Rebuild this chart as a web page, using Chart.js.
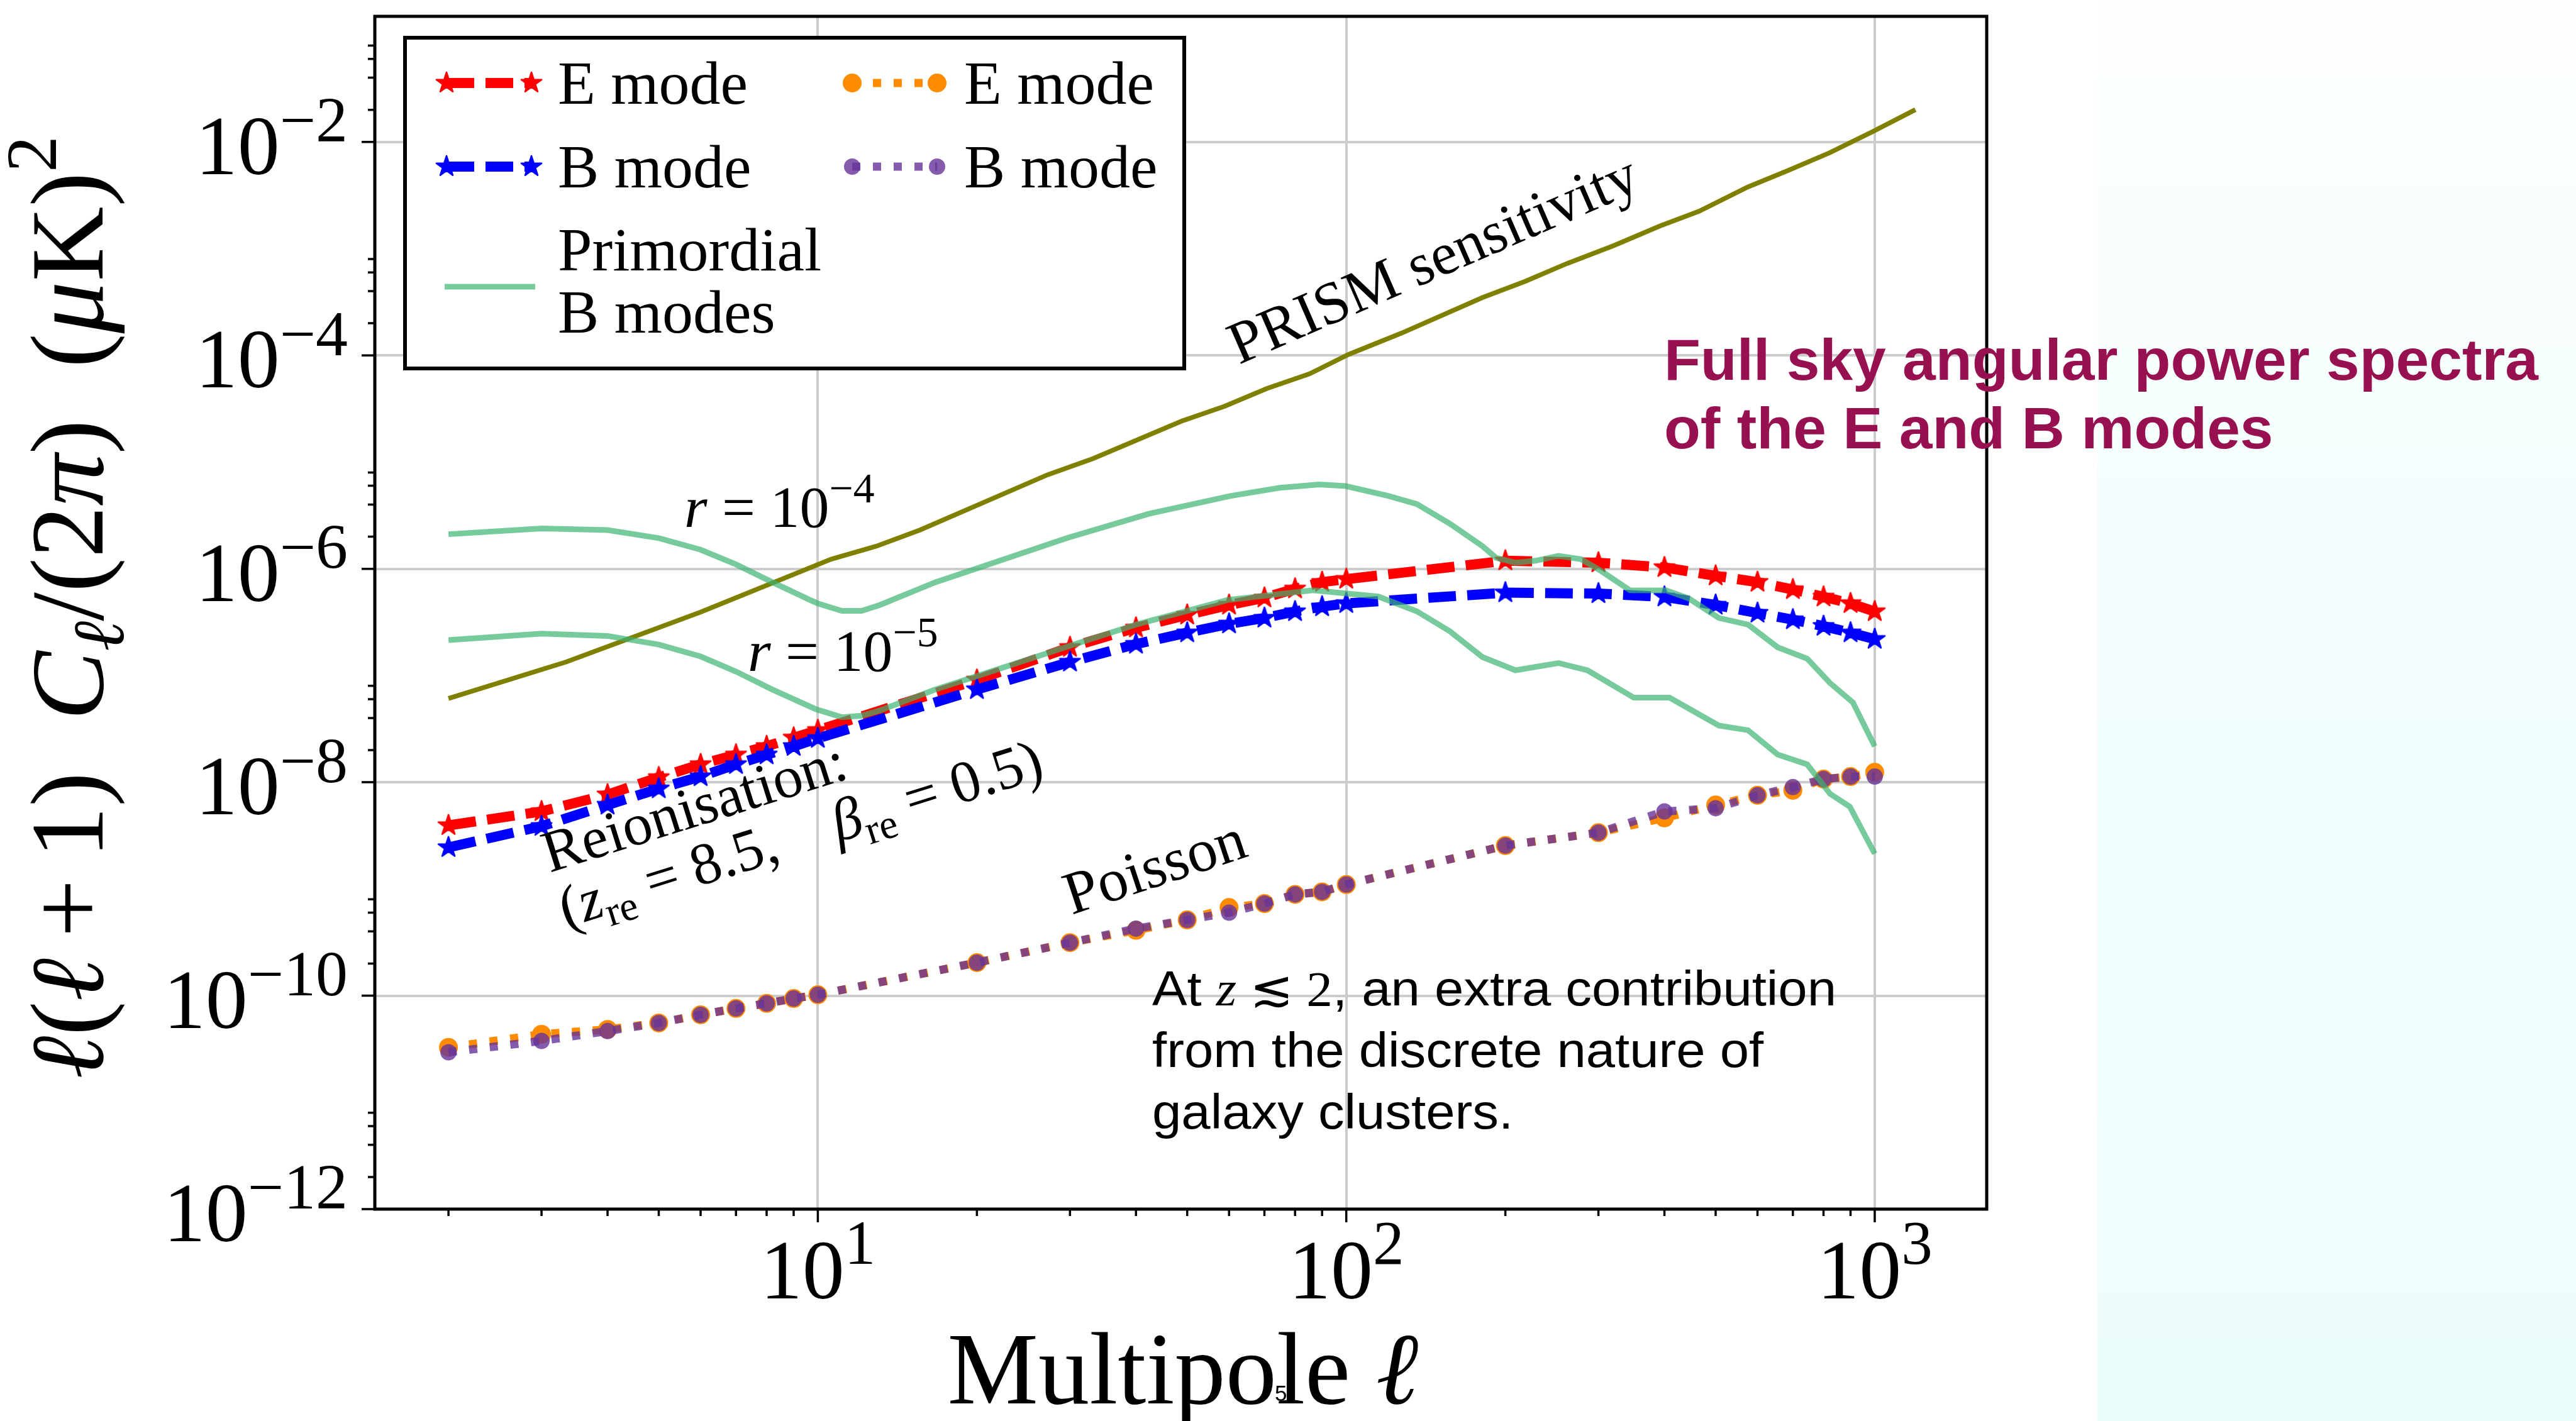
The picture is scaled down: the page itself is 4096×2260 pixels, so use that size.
<!DOCTYPE html>
<html lang="en">
<head>
<meta charset="utf-8">
<title>Full sky angular power spectra of the E and B modes</title>
<script src="https://cdn.jsdelivr.net/npm/chart.js"></script>
<style>
  html, body { margin: 0; padding: 0; background: #fff; }
  canvas { display: block; }
</style>
</head>
<body>
<canvas id="plot" width="4096" height="2260"></canvas>
<script>
// multipoles where the reionisation and Poisson spectra are sampled
const ells = [2, 3, 4, 5, 6, 7, 8, 9, 10, 20, 30, 40, 50, 60, 70, 80, 90, 100,
  200, 300, 400, 500, 600, 700, 800, 900, 1000];

const eModeReion = [3.94e-9, 5.32e-9, 7.66e-9, 1.11e-8, 1.47e-8, 1.81e-8, 2.17e-8, 2.61e-8, 3.07e-8,
  9.1e-8, 1.84e-7, 2.8e-7, 3.7e-7, 4.58e-7, 5.35e-7, 6.5e-7, 7.5e-7, 8.0e-7,
  1.19e-6, 1.14e-6, 1.03e-6, 8.6e-7, 7.5e-7, 6.4e-7, 5.46e-7, 4.74e-7, 3.98e-7];
const bModeReion = [2.45e-9, 3.87e-9, 6.12e-9, 8.7e-9, 1.13e-8, 1.47e-8, 1.81e-8, 2.17e-8, 2.58e-8,
  7.4e-8, 1.34e-7, 1.97e-7, 2.52e-7, 3.05e-7, 3.46e-7, 3.98e-7, 4.42e-7, 4.74e-7,
  5.98e-7, 5.86e-7, 5.46e-7, 4.58e-7, 3.85e-7, 3.34e-7, 2.9e-7, 2.52e-7, 2.19e-7];
const eModePoisson = [3.28e-11, 4.35e-11, 4.83e-11, 5.55e-11, 6.62e-11, 7.6e-11, 8.47e-11, 9.4e-11, 1.02e-10,
  2.04e-10, 3.14e-10, 4.1e-10, 5.13e-10, 6.7e-10, 7.3e-10, 8.9e-10, 9.4e-10, 1.1e-9,
  2.55e-9, 3.37e-9, 4.63e-9, 6.12e-9, 7.55e-9, 8.4e-9, 1.07e-8, 1.13e-8, 1.24e-8];
const bModePoisson = [2.95e-11, 3.77e-11, 4.66e-11, 5.55e-11, 6.62e-11, 7.6e-11, 8.47e-11, 9.4e-11, 1.02e-10,
  2.04e-10, 3.14e-10, 4.25e-10, 5.13e-10, 6.0e-10, 7.3e-10, 8.9e-10, 9.4e-10, 1.1e-9,
  2.55e-9, 3.37e-9, 5.32e-9, 5.71e-9, 7.55e-9, 9.0e-9, 1.07e-8, 1.13e-8, 1.13e-8];

// primordial B modes, r = 1e-4
const r4Ell = [2, 3, 4, 5, 6, 7, 8.2, 9.6, 10, 11.1, 12.1, 13.1, 16.7, 20.7, 29.6, 42.3, 60.5, 74.9,
  88.9, 99.7, 120, 136, 157, 181, 192, 209, 228, 252, 278, 303, 344, 403, 445, 507, 576, 655,
  745, 823, 909, 1000];
const r4Val = [2.11e-6, 2.39e-6, 2.31e-6, 1.94e-6, 1.51e-6, 1.1e-6, 7.5e-7, 5.18e-7, 4.74e-7, 4.04e-7,
  4.04e-7, 4.58e-7, 7.5e-7, 1.07e-6, 1.94e-6, 3.28e-6, 4.83e-6, 5.75e-6, 6.18e-6, 5.96e-6, 4.83e-6,
  4.05e-6, 2.65e-6, 1.63e-6, 1.27e-6, 1.14e-6, 1.19e-6, 1.32e-6, 1.23e-6, 9.6e-7, 6.3e-7, 6.28e-7,
  5.27e-7, 3.46e-7, 3.0e-7, 1.84e-7, 1.44e-7, 8.5e-8, 5.6e-8, 2.17e-8];

// primordial B modes, r = 1e-5
const r5Ell = [2, 3, 4, 5, 6, 7, 8.2, 9.9, 11.1, 12.1, 13.1, 16.7, 19.9, 30, 40, 59.6, 86.4, 115,
  136, 157, 181, 209, 252, 286, 350, 409, 507, 576, 655, 745, 823, 897, 1000];
const r5Val = [2.15e-7, 2.47e-7, 2.35e-7, 1.95e-7, 1.51e-7, 1.09e-7, 7.4e-8, 4.85e-8, 4.07e-8, 4.2e-8,
  4.7e-8, 7.4e-8, 9.8e-8, 1.9e-7, 3.0e-7, 5.1e-7, 6.3e-7, 5.5e-7, 4.0e-7, 2.6e-7, 1.49e-7, 1.12e-7,
  1.31e-7, 1.12e-7, 6.2e-8, 6.2e-8, 3.4e-8, 3.07e-8, 1.82e-8, 1.47e-8, 7.8e-9, 5.9e-9, 2.14e-9];

// PRISM sensitivity
const prismEll = [2, 3.34, 6, 10.6, 12.9, 15.6, 27.2, 33.2, 48.8, 58.8, 70.7, 85.2, 101, 127, 181,
  218, 262, 321, 392, 465, 575, 684, 822, 991, 1194];
const prismVal = [6.1e-8, 1.34e-7, 3.93e-7, 1.23e-6, 1.63e-6, 2.31e-6, 7.6e-6, 1.08e-5, 2.42e-5,
  3.33e-5, 4.89e-5, 6.71e-5, 1.02e-4, 1.61e-4, 3.48e-4, 4.94e-4, 7.28e-4, 1.07e-3, 1.63e-3,
  2.24e-3, 3.78e-3, 5.38e-3, 7.93e-3, 1.25e-2, 2.01e-2];

const xMajor = [10, 100, 1000];
const xExp = ['1', '2', '3'];
const xMinor = [2, 3, 4, 5, 6, 7, 8, 9, 20, 30, 40, 50, 60, 70, 80, 90, 200, 300, 400, 500, 600, 700, 800, 900];
const yMajor = [1e-12, 1e-10, 1e-8, 1e-6, 1e-4, 1e-2];
const yExp = ['\u221212', '\u221210', '\u22128', '\u22126', '\u22124', '\u22122'];
const yMinor = [2e-12, 4e-12, 6e-12, 8e-12, 2e-10, 4e-10, 6e-10, 8e-10, 2e-8, 4e-8, 6e-8, 8e-8,
  2e-6, 4e-6, 6e-6, 8e-6, 2e-4, 4e-4, 6e-4, 8e-4, 2e-2, 4e-2, 6e-2, 8e-2];

const legendLabels = ['E mode', 'B mode', 'E mode', 'B mode', ['Primordial', 'B modes']];

const W = 4096, H = 2260;
const SERIF = '"Liberation Serif", "DejaVu Serif", serif';
const SANS = '"Liberation Sans", Arial, sans-serif';

function pts(xs, ys) {
  return xs.map((v, i) => ({ x: v, y: ys[i] }));
}

function starImage(color, R) {
  const c = document.createElement('canvas');
  const n = Math.ceil(2 * R + 6);
  c.width = c.height = n;
  const g = c.getContext('2d');
  g.translate(n / 2, n / 2);
  g.beginPath();
  for (let k = 0; k < 10; k++) {
    const r = k % 2 ? R * 0.382 : R;
    const a = -Math.PI / 2 + k * Math.PI / 5;
    g.lineTo(r * Math.cos(a), r * Math.sin(a));
  }
  g.closePath();
  g.fillStyle = color;
  g.strokeStyle = color;
  g.lineWidth = 2.5;
  g.lineJoin = 'round';
  g.fill();
  g.stroke();
  return c;
}

function runFont(r, size) {
  return (r.i ? 'italic ' : '') + (r.b ? 'bold ' : '') + (size * (r.k || 1)) + 'px ' + (r.sans ? SANS : SERIF);
}

function runsWidth(ctx, runs, size) {
  let w = 0;
  for (const r of runs) {
    ctx.font = runFont(r, size);
    w += ctx.measureText(r.t).width;
  }
  return w;
}

function drawRuns(ctx, runs, x, y, size, o = {}) {
  const w = runsWidth(ctx, runs, size);
  ctx.save();
  ctx.translate(x, y);
  if (o.angle) ctx.rotate(o.angle * Math.PI / 180);
  if (o.sx) ctx.scale(o.sx, 1);
  let cx = o.align === 'center' ? -w / 2 : o.align === 'right' ? -w : 0;
  ctx.fillStyle = o.color || '#000';
  ctx.textAlign = 'left';
  ctx.textBaseline = 'alphabetic';
  for (const r of runs) {
    ctx.font = runFont(r, size);
    ctx.fillText(r.t, cx, (r.dy || 0) * size);
    cx += ctx.measureText(r.t).width;
  }
  ctx.restore();
  return w;
}

const redStar = starImage('#ff0000', 17);
const blueStar = starImage('#0000ff', 17);

const datasets = [
  { data: pts(r5Ell, r5Val), borderColor: 'rgba(60,179,113,0.7)', borderWidth: 9, pointRadius: 0 },
  { data: pts(r4Ell, r4Val), borderColor: 'rgba(60,179,113,0.7)', borderWidth: 9, pointRadius: 0 },
  { data: pts(prismEll, prismVal), borderColor: '#808000', borderWidth: 7.5, pointRadius: 0 },
  { data: pts(ells, bModePoisson), borderColor: 'rgba(102,51,153,0.8)', backgroundColor: 'rgba(102,51,153,0.8)',
    borderWidth: 13, borderDash: [13, 20], pointRadius: 13, pointBorderWidth: 0 },
  { data: pts(ells, eModePoisson), borderColor: '#ff8c00', backgroundColor: '#ff8c00',
    borderWidth: 13, borderDash: [13, 20], pointRadius: 15, pointBorderWidth: 0 },
  { data: pts(ells, bModeReion), borderColor: '#0000ff', borderWidth: 16, borderDash: [44, 18],
    pointStyle: blueStar, pointRadius: 10 },
  { data: pts(ells, eModeReion), borderColor: '#ff0000', borderWidth: 16, borderDash: [44, 18],
    pointStyle: redStar, pointRadius: 10 }
];

function handle(ctx, ds, x0, x1, yc) {
  ctx.save();
  ctx.strokeStyle = ds.borderColor;
  ctx.lineWidth = ds.borderWidth;
  ctx.setLineDash(ds.borderDash || []);
  ctx.beginPath();
  ctx.moveTo(x0, yc);
  ctx.lineTo(x1, yc);
  ctx.stroke();
  ctx.setLineDash([]);
  for (const px of [x0, x1]) {
    if (ds.pointStyle instanceof HTMLCanvasElement) {
      ctx.drawImage(ds.pointStyle, px - ds.pointStyle.width / 2, yc - ds.pointStyle.height / 2);
    } else if (ds.pointRadius > 0) {
      ctx.fillStyle = ds.backgroundColor;
      ctx.beginPath();
      ctx.arc(px, yc, ds.pointRadius, 0, Math.PI * 2);
      ctx.fill();
    }
  }
  ctx.restore();
}

const decor = {
  id: 'decor',
  beforeDraw(chart) {
    const ctx = chart.ctx;
    ctx.save();
    ctx.fillStyle = '#fff';
    ctx.fillRect(0, 0, W, H);
    const g = ctx.createLinearGradient(0, 0, 0, H);
    g.addColorStop(0, '#fdfffe');
    g.addColorStop(0.35, '#f4fdfd');
    g.addColorStop(1, '#ecfdfd');
    ctx.fillStyle = g;
    ctx.fillRect(3335, 0, W - 3335, H);
    ctx.restore();
  },
  afterDraw(chart) {
    const { ctx, chartArea: a, scales: { x, y } } = chart;
    ctx.save();

    // frame and ticks
    ctx.strokeStyle = '#000';
    ctx.lineWidth = 3.5;
    ctx.beginPath();
    for (const v of xMajor) { const p = x.getPixelForValue(v); ctx.moveTo(p, a.bottom); ctx.lineTo(p, a.bottom + 21); }
    for (const v of xMinor) { const p = x.getPixelForValue(v); ctx.moveTo(p, a.bottom); ctx.lineTo(p, a.bottom + 11); }
    for (const v of yMajor) { const p = y.getPixelForValue(v); ctx.moveTo(a.left, p); ctx.lineTo(a.left - 21, p); }
    for (const v of yMinor) { const p = y.getPixelForValue(v); ctx.moveTo(a.left, p); ctx.lineTo(a.left - 11, p); }
    ctx.stroke();
    ctx.lineWidth = 5;
    ctx.strokeRect(a.left, a.top, a.right - a.left, a.bottom - a.top);

    // tick labels
    xMajor.forEach((v, i) => drawRuns(ctx, [{ t: '10' }, { t: xExp[i], k: 0.74, dy: -0.41 }],
      x.getPixelForValue(v), 2065, 134, { align: 'center' }));
    yMajor.forEach((v, i) => drawRuns(ctx, [{ t: '10' }, { t: yExp[i], k: 0.76, dy: -0.385 }],
      553, y.getPixelForValue(v) + 51, 134, { align: 'right' }));

    // axis titles
    const xl = [{ t: 'Multipole ' }, { t: '\u2113', i: 1 }];
    const xs = 160 * 749 / runsWidth(ctx, xl, 160);
    drawRuns(ctx, xl, 1881, 2232, xs, { align: 'center' });

    const yl = [{ t: '\u2113', i: 1 }, { t: '(' }, { t: '\u2113', i: 1 }, { t: '\u2009+\u20091)\u2002' },
      { t: 'C', i: 1 }, { t: '\u2113', i: 1, k: 0.7, dy: 0.2 }, { t: '/(2' }, { t: '\u03c0', i: 1 },
      { t: ')\u2002(' }, { t: '\u03bc', i: 1 }, { t: 'K)' }, { t: '2', k: 0.7, dy: -0.45 }];
    const ys = 160 * 1500 / runsWidth(ctx, yl, 160);
    drawRuns(ctx, yl, 163, 966, ys, { align: 'center', angle: -90 });

    // legend
    ctx.fillStyle = '#fff';
    ctx.fillRect(644, 60, 1239, 526);
    ctx.lineWidth = 6;
    ctx.strokeStyle = '#000';
    ctx.strokeRect(644, 60, 1239, 526);
    handle(ctx, datasets[6], 710, 845, 132);
    handle(ctx, datasets[5], 710, 845, 265);
    handle(ctx, datasets[4], 1355, 1490, 132);
    handle(ctx, datasets[3], 1355, 1490, 265);
    handle(ctx, datasets[1], 707, 851, 456);
    drawRuns(ctx, [{ t: legendLabels[0] }], 887, 165, 98);
    drawRuns(ctx, [{ t: legendLabels[1] }], 887, 298, 98);
    drawRuns(ctx, [{ t: legendLabels[2] }], 1533, 165, 98);
    drawRuns(ctx, [{ t: legendLabels[3] }], 1533, 298, 98);
    drawRuns(ctx, [{ t: legendLabels[4][0] }], 887, 430, 98);
    drawRuns(ctx, [{ t: legendLabels[4][1] }], 887, 529, 98);

    // curve annotations
    drawRuns(ctx, [{ t: 'PRISM sensitivity' }], 1970, 580, 95, { angle: -23.5 });
    drawRuns(ctx, [{ t: 'r', i: 1 }, { t: ' = 10' }, { t: '\u22124', k: 0.72, dy: -0.42 }], 1088, 838, 94);
    drawRuns(ctx, [{ t: 'r', i: 1 }, { t: ' = 10' }, { t: '\u22125', k: 0.72, dy: -0.42 }], 1189, 1067, 94);
    drawRuns(ctx, [{ t: 'Reionisation:' }], 874, 1388, 94, { angle: -17.5 });
    drawRuns(ctx, [{ t: '(' }, { t: 'z', i: 1 }, { t: 're', k: 0.7, dy: 0.2 }, { t: ' = 8.5,\u2003' },
      { t: '\u03b2', i: 1 }, { t: 're', k: 0.7, dy: 0.2 }, { t: ' = 0.5)' }], 900, 1476, 94, { angle: -17.5 });
    drawRuns(ctx, [{ t: 'Poisson' }], 1704, 1455, 96, { angle: -18.3 });

    // note on clusters
    const n1 = [{ t: 'At ', sans: 1 }, { t: 'z', i: 1 }, { t: ' \u2272 2' }, { t: ', an extra contribution', sans: 1 }];
    const nsx = 1088 / runsWidth(ctx, n1, 78);
    drawRuns(ctx, n1, 1832, 1599, 78, { sx: nsx });
    drawRuns(ctx, [{ t: 'from the discrete nature of', sans: 1 }], 1832, 1697, 78, { sx: nsx });
    drawRuns(ctx, [{ t: 'galaxy clusters.', sans: 1 }], 1832, 1795, 78, { sx: nsx });

    // slide title
    const t1 = [{ t: 'Full sky angular power spectra', sans: 1, b: 1 }];
    const tsx = 1390 / runsWidth(ctx, t1, 92);
    drawRuns(ctx, t1, 2646, 604, 92, { sx: tsx, color: '#97104f' });
    drawRuns(ctx, [{ t: 'of the E and B modes', sans: 1, b: 1 }], 2646, 713, 92, { sx: tsx, color: '#97104f' });

    drawRuns(ctx, [{ t: '5', sans: 1 }], 2027, 2228, 35);
    ctx.restore();
  }
};

new Chart(document.getElementById('plot'), {
  type: 'line',
  data: { datasets: datasets },
  options: {
    responsive: false,
    animation: false,
    devicePixelRatio: 1,
    layout: { padding: { left: 0, top: 12, right: W - 3159, bottom: 0 } },
    plugins: { legend: { display: false }, tooltip: { enabled: false } },
    elements: { line: { tension: 0 } },
    scales: {
      x: {
        type: 'logarithmic', min: 1.451, max: 1629,
        afterBuildTicks: s => { s.ticks = xMajor.map(v => ({ value: v })); },
        afterFit: s => { s.height = H - 1923; },
        ticks: { display: false },
        grid: { color: '#cccccc', lineWidth: 4, drawTicks: false },
        border: { display: false }
      },
      y: {
        type: 'logarithmic', min: 1e-12, max: 0.1503,
        afterBuildTicks: s => { s.ticks = yMajor.map(v => ({ value: v })); },
        afterFit: s => { s.width = 596; },
        ticks: { display: false },
        grid: { color: '#cccccc', lineWidth: 4, drawTicks: false },
        border: { display: false }
      }
    }
  },
  plugins: [decor]
});
</script>
</body>
</html>
